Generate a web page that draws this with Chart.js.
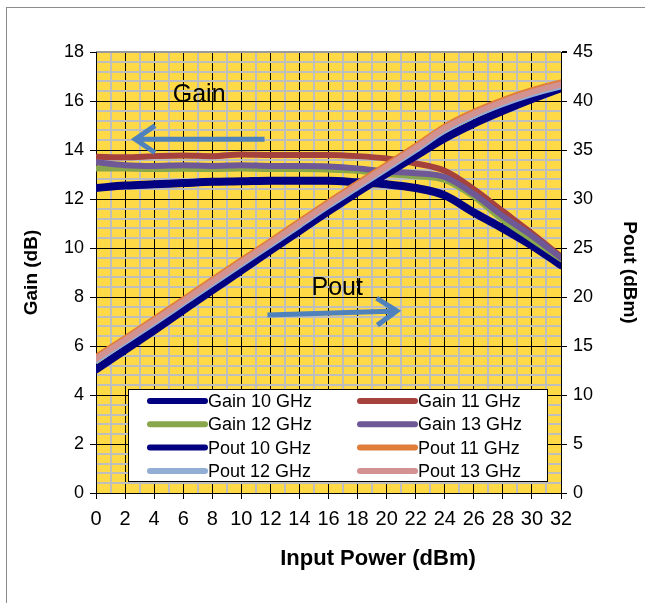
<!DOCTYPE html>
<html>
<head>
<meta charset="utf-8">
<script src="https://cdn.jsdelivr.net/npm/chart.js@4"></script>
<style>
  html, body { margin: 0; padding: 0; background: #fff; }
  canvas { display: block; }
</style>
</head>
<body>
<canvas id="paChart" width="645" height="603"></canvas>
<script>
// input power sweep (dBm)
const inputPower = [0, 2, 4, 6, 8, 10, 12, 14, 16, 18, 20, 22, 24, 26, 28, 30, 32];

// gain (dB) per frequency
const gain10 = [12.45, 12.55, 12.6, 12.65, 12.7, 12.72, 12.75, 12.75, 12.75, 12.68, 12.6, 12.45, 12.15, 11.45, 10.8, 10.1, 9.3];
const gain11 = [13.72, 13.7, 13.75, 13.78, 13.75, 13.82, 13.8, 13.8, 13.8, 13.75, 13.65, 13.45, 13.15, 12.4, 11.5, 10.6, 9.65];
const gain12 = [13.25, 13.25, 13.22, 13.23, 13.22, 13.24, 13.22, 13.22, 13.2, 13.15, 13.02, 12.93, 12.78, 12.1, 11.15, 10.35, 9.55];
const gain13 = [13.5, 13.38, 13.35, 13.38, 13.35, 13.38, 13.35, 13.35, 13.33, 13.25, 13.12, 13.05, 12.9, 12.2, 11.3, 10.5, 9.6];

// output power (dBm) per frequency
const pout10 = [12.6, 14.6, 16.6, 18.65, 20.7, 22.7, 24.75, 26.75, 28.75, 30.7, 32.6, 34.4, 36.2, 37.7, 39.0, 40.2, 41.3];
const pout11 = [13.9, 15.8, 17.75, 19.75, 21.75, 23.75, 25.7, 27.7, 29.7, 31.6, 33.5, 35.4, 37.4, 38.9, 40.1, 41.1, 41.9];
const pout12 = [13.5, 15.4, 17.35, 19.35, 21.35, 23.35, 25.3, 27.3, 29.3, 31.2, 33.1, 35.0, 37.0, 38.5, 39.7, 40.7, 41.5];
const pout13 = [13.7, 15.6, 17.55, 19.55, 21.55, 23.55, 25.5, 27.5, 29.5, 31.4, 33.3, 35.2, 37.2, 38.7, 39.9, 40.9, 41.7];

// tick labels
const xTicks = [0, 2, 4, 6, 8, 10, 12, 14, 16, 18, 20, 22, 24, 26, 28, 30, 32];
const gainTicks = [0, 2, 4, 6, 8, 10, 12, 14, 16, 18];
const poutTicks = [0, 5, 10, 15, 20, 25, 30, 35, 40, 45];

const FONT = "'Liberation Sans', Arial, sans-serif";
Chart.defaults.font.family = FONT;
Chart.defaults.color = '#000';

const GRID_MAJOR = '#000000';
const GRID_MINOR = '#BEBEBE';

function series (label, values, color, width, axis, order) {
  return {
    label: label,
    data: inputPower.map((x, i) => ({ x: x, y: values[i] })),
    borderColor: color,
    backgroundColor: color,
    borderWidth: width,
    yAxisID: axis,
    order: order,
    pointRadius: 0,
    fill: false,
    cubicInterpolationMode: 'monotone',
    borderCapStyle: 'round',
    borderJoinStyle: 'round'
  };
}

// plot background + frame around the whole graphic
const backdrop = {
  id: 'backdrop',
  beforeDraw (chart) {
    const { ctx, chartArea: a } = chart;
    ctx.save();
    ctx.fillStyle = '#fff';
    ctx.fillRect(0, 0, chart.width, chart.height);
    ctx.strokeStyle = '#8c8c8c';
    ctx.lineWidth = 1;
    ctx.strokeRect(6.5, 7.5, chart.width + 20, chart.height + 20);
    ctx.fillStyle = '#FFD946';
    ctx.fillRect(a.left, a.top, a.right - a.left, a.bottom - a.top);
    ctx.restore();
  }
};

function arrow (ctx, x0, y0, x1, y1, head) {
  const ang = Math.atan2(y1 - y0, x1 - x0);
  ctx.beginPath();
  ctx.moveTo(x0, y0);
  ctx.lineTo(x1, y1);
  ctx.moveTo(x1 - head * Math.cos(ang - 0.6), y1 - head * Math.sin(ang - 0.6));
  ctx.lineTo(x1, y1);
  ctx.lineTo(x1 - head * Math.cos(ang + 0.6), y1 - head * Math.sin(ang + 0.6));
  ctx.stroke();
}

// "Gain" / "Pout" labels with their arrows, placed in data units
const notes = {
  id: 'notes',
  afterDatasetsDraw (chart) {
    const { ctx, scales } = chart;
    const px = v => scales.x.getPixelForValue(v);
    const py = v => scales.y.getPixelForValue(v);
    ctx.save();
    ctx.fillStyle = '#000';
    ctx.font = '25px ' + FONT;
    ctx.textAlign = 'center';
    ctx.textBaseline = 'middle';
    ctx.fillText('Gain', px(7.1), py(16.25));
    ctx.fillText('Pout', px(16.6), py(8.35));
    ctx.strokeStyle = '#4F81BD';
    ctx.lineWidth = 5;
    ctx.lineCap = 'butt';
    ctx.lineJoin = 'miter';
    arrow(ctx, px(11.6), py(14.44), px(2.7), py(14.44), 24);
    arrow(ctx, px(11.8), py(7.27), px(20.7), py(7.43), 24);
    ctx.restore();
  }
};

// boxed two-column legend inside the plot, plus the x-axis caption
const boxLegend = {
  id: 'boxLegend',
  afterDraw (chart) {
    const { ctx, chartArea: a } = chart;
    const sets = chart.data.datasets;
    const left = a.left + 32, top = a.bottom - 104, w = 419, h = 92;
    ctx.save();
    ctx.fillStyle = '#fff';
    ctx.fillRect(left, top, w, h);
    ctx.strokeStyle = '#000';
    ctx.lineWidth = 1;
    ctx.strokeRect(left + 0.5, top + 0.5, w, h);
    ctx.font = '18px ' + FONT;
    ctx.textBaseline = 'middle';
    ctx.fillStyle = '#000';
    ctx.lineCap = 'round';
    sets.forEach((ds, i) => {
      const col = i % 2, row = Math.floor(i / 2);
      const x = left + 22 + col * 210;
      const y = top + 12 + row * 23.3;
      ctx.strokeStyle = ds.borderColor;
      ctx.lineWidth = 6;
      ctx.beginPath();
      ctx.moveTo(x, y);
      ctx.lineTo(x + 55, y);
      ctx.stroke();
      ctx.fillText(ds.label, x + 58, y + 1);
    });

    ctx.font = 'bold 22px ' + FONT;
    ctx.textAlign = 'center';
    ctx.fillText('Input Power (dBm)', a.left + 282, a.bottom + 66);
    ctx.restore();
  }
};

const isEven = v => Math.abs(v / 2 - Math.round(v / 2)) < 1e-6;
const isFive = v => Math.abs(v / 5 - Math.round(v / 5)) < 1e-6;

const chart = new Chart(document.getElementById('paChart').getContext('2d'), {
  type: 'line',
  data: {
    datasets: [
      series('Gain 10 GHz', gain10, '#000080', 8, 'y', 8),
      series('Gain 11 GHz', gain11, '#A5423E', 6, 'y', 7),
      series('Gain 12 GHz', gain12, '#88A64B', 6, 'y', 6),
      series('Gain 13 GHz', gain13, '#6E5896', 6, 'y', 5),
      series('Pout 10 GHz', pout10, '#000080', 8, 'y1', 4),
      series('Pout 11 GHz', pout11, '#E07D3A', 6, 'y1', 3),
      series('Pout 12 GHz', pout12, '#93AED5', 6, 'y1', 2),
      series('Pout 13 GHz', pout13, '#D39292', 6, 'y1', 1)
    ]
  },
  options: {
    responsive: false,
    animation: false,
    devicePixelRatio: 1,
    layout: { padding: { left: 6, top: 52, right: 0, bottom: 0 } },
    plugins: { legend: { display: false }, tooltip: { enabled: false } },
    scales: {
      x: {
        type: 'linear',
        min: 0,
        max: 32,
        afterFit: s => { s.height = 110; },
        ticks: {
          stepSize: 1,
          autoSkip: false,
          maxRotation: 0,
          padding: 8,
          font: { size: 20 },
          callback: v => xTicks.includes(v) ? String(v) : ''
        },
        grid: {
          color: c => isEven(c.tick.value) ? GRID_MAJOR : GRID_MINOR,
          lineWidth: c => isEven(c.tick.value) ? 1 : 2,
          tickColor: c => isEven(c.tick.value) ? '#000' : 'rgba(0,0,0,0)',
          tickLength: 6
        },
        border: { color: '#000', width: 1 },
        title: { display: false }
      },
      y: {
        position: 'left',
        min: 0,
        max: 18,
        afterFit: s => { s.width = 90; },
        ticks: {
          stepSize: 2,
          padding: 6,
          font: { size: 18 },
          callback: v => gainTicks.includes(v) ? String(v) : ''
        },
        grid: { drawOnChartArea: false, color: '#000', tickLength: 6 },
        border: { color: '#000', width: 1 },
        title: {
          display: true,
          text: 'Gain (dB)',
          font: { size: 19, weight: 'bold' },
          padding: { top: 14 }
        }
      },
      y1: {
        position: 'right',
        min: 0,
        max: 45,
        afterFit: s => { s.width = 84; },
        ticks: {
          stepSize: 1,
          autoSkip: false,
          padding: 6,
          font: { size: 18 },
          callback: v => poutTicks.includes(v) ? String(v) : ''
        },
        grid: {
          color: c => c.tick.value === 45 ? '#9a9a9a' : (isFive(c.tick.value) ? GRID_MAJOR : GRID_MINOR),
          lineWidth: c => (isFive(c.tick.value) && c.tick.value !== 45) ? 1 : 2,
          tickColor: c => isFive(c.tick.value) ? '#000' : 'rgba(0,0,0,0)',
          tickLength: 6
        },
        border: { color: '#000', width: 1 },
        title: {
          display: true,
          text: 'Pout (dBm)',
          font: { size: 19, weight: 'bold' },
          padding: { top: 4 }
        }
      }
    }
  },
  plugins: [backdrop, notes, boxLegend]
});
</script>
</body>
</html>
